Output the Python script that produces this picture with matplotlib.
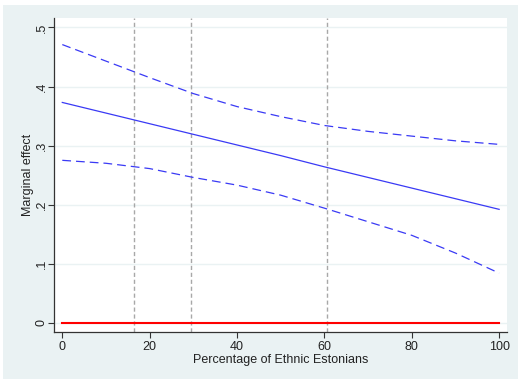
import matplotlib.pyplot as plt
import matplotlib.patches as mpatches

# Marginal effect estimates
pct = [0, 10, 20, 30, 40, 50, 60, 70, 80, 90, 100]
effect = [0.373, 0.355, 0.337, 0.319, 0.301, 0.283, 0.264, 0.246, 0.228, 0.210, 0.192]
upper = [0.471, 0.443, 0.415, 0.388, 0.366, 0.349, 0.334, 0.324, 0.316, 0.308, 0.302]
lower = [0.275, 0.270, 0.261, 0.246, 0.233, 0.216, 0.194, 0.171, 0.148, 0.118, 0.084]
vlines = [16.3, 29.5, 60.5]

yticks = [0, 0.1, 0.2, 0.3, 0.4, 0.5]
ytick_labels = ["0", ".1", ".2", ".3", ".4", ".5"]
xticks = [0, 20, 40, 60, 80, 100]

plt.rcParams['font.family'] = ['Liberation Sans', 'DejaVu Sans']

bg = '#EAF2F3'
blue = '#3A3AF5'

fig = plt.figure(figsize=(5.18, 3.79), dpi=100, facecolor='white')
# Stata-style outer background
fig.patches.append(mpatches.Rectangle((3 / 518, 0), 1, 1 - 5 / 379, transform=fig.transFigure,
                                      facecolor=bg, edgecolor='none', zorder=-1))

ax = fig.add_axes([54 / 518, 47 / 379, 453 / 518, 314 / 379])
ax.set_facecolor('white')

for y in yticks:
    ax.axhline(y, color=bg, lw=1.0, zorder=0)
for v in vlines:
    ax.axvline(v, color='#A8A8A8', lw=1.0, ls=(0, (3, 2)), zorder=1)

ax.plot(pct, upper, color=blue, lw=0.9, ls=(0, (7, 4)))
ax.plot(pct, effect, color=blue, lw=0.9)
ax.plot(pct, lower, color=blue, lw=0.9, ls=(0, (7, 4)))
ax.plot([0, 100], [0, 0], color='red', lw=1.5)

ax.set_xlim(-1.9, 101.8)
ax.set_ylim(-0.0157, 0.516)

ax.set_xticks(xticks)
ax.set_yticks(yticks)
ax.set_yticklabels(ytick_labels, rotation=90, va='center')
ax.tick_params(axis='both', direction='out', length=4.5, width=0.8, color='#333333',
               labelsize=9, labelcolor='#222222')
ax.tick_params(axis='x', pad=2)
ax.tick_params(axis='y', pad=0)

for side in ['top', 'right']:
    ax.spines[side].set_visible(False)
for side in ['left', 'bottom']:
    ax.spines[side].set_color('#333333')
    ax.spines[side].set_linewidth(0.9)

ax.set_xlabel('Percentage of Ethnic Estonians', fontsize=9, color='#222222', labelpad=1)
ax.set_ylabel('Marginal effect', fontsize=9, color='#222222', labelpad=1)

fig.savefig('out.png', dpi=100, facecolor=fig.get_facecolor())
